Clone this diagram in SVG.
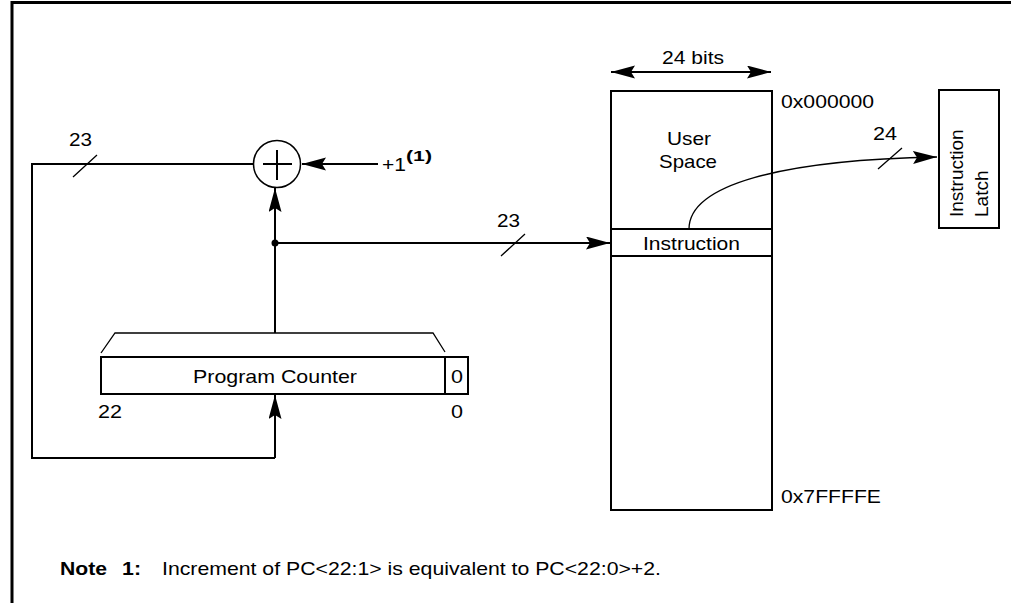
<svg xmlns="http://www.w3.org/2000/svg" width="1011" height="603" viewBox="0 0 1011 603">
<style>
text{font-family:"Liberation Sans",Arial,sans-serif;font-size:19px;fill:#000}
.b{font-weight:bold}
.ln{fill:none;stroke:#000;stroke-width:2}
.th{fill:none;stroke:#000;stroke-width:1.3}
.box{fill:#fff;stroke:#000;stroke-width:2}
</style>
<defs>
<marker id="ah" markerUnits="userSpaceOnUse" markerWidth="24" markerHeight="14" refX="24" refY="6.5" orient="auto-start-reverse">
<path d="M0,0 L24,6.5 L0,13 L4,6.5 z" fill="#000"/>
</marker>
</defs>
<path d="M12,603 V2.5 H1011" fill="none" stroke="#000" stroke-width="3"/>
<g id="program-counter">
<path class="th" d="M101,353 L115,333 H433 L445,352"/>
<rect class="box" x="101" y="357" width="367" height="37"/>
<path class="ln" d="M445,357 V394"/>
<text x="193" y="383" textLength="164" lengthAdjust="spacingAndGlyphs">Program Counter</text>
<text x="451" y="383" textLength="12" lengthAdjust="spacingAndGlyphs">0</text>
<text x="98" y="418" textLength="24" lengthAdjust="spacingAndGlyphs">22</text>
<text x="451" y="418" textLength="12" lengthAdjust="spacingAndGlyphs">0</text>
</g>
<g id="memory">
<path class="ln" d="M611,72 H771" marker-start="url(#ah)" marker-end="url(#ah)"/>
<text x="662" y="64" textLength="62" lengthAdjust="spacingAndGlyphs">24 bits</text>
<rect class="box" x="611" y="91" width="161" height="419"/>
<path class="ln" d="M611,229 H772 M611,256 H772"/>
<text x="667" y="145" textLength="44" lengthAdjust="spacingAndGlyphs">User</text>
<text x="659" y="168" textLength="58" lengthAdjust="spacingAndGlyphs">Space</text>
<text x="643" y="250" textLength="97" lengthAdjust="spacingAndGlyphs">Instruction</text>
<text x="781" y="108" textLength="93" lengthAdjust="spacingAndGlyphs">0x000000</text>
<text x="781" y="503" textLength="100" lengthAdjust="spacingAndGlyphs">0x7FFFFE</text>
</g>
<g id="instruction-latch">
<rect class="box" x="939" y="90" width="60" height="138"/>
<text transform="translate(963,217) rotate(-90)">Instruction</text>
<text transform="translate(988,217) rotate(-90)">Latch</text>
</g>
<g id="connectors">
<path class="ln" d="M275,458 H32 V164 H254"/>
<path class="ln" d="M378,164 H302" marker-end="url(#ah)"/>
<path class="ln" d="M275,333 V188" marker-end="url(#ah)"/>
<path class="ln" d="M275,243 H610" marker-end="url(#ah)"/>
<path class="ln" d="M275,458 V395" marker-end="url(#ah)"/>
<path class="th" d="M689,229 C689,185 780,160 937,157" marker-end="url(#ah)"/>
<circle cx="275" cy="243" r="3.5" fill="#000"/>
<path class="th" d="M73,177 L97,155 M501,256 L525,234 M878,169 L902,148"/>
<text x="69" y="146" textLength="23" lengthAdjust="spacingAndGlyphs">23</text>
<text x="497" y="227" textLength="23" lengthAdjust="spacingAndGlyphs">23</text>
<text x="873" y="140" textLength="24" lengthAdjust="spacingAndGlyphs">24</text>
<text x="382" y="171" textLength="24" lengthAdjust="spacingAndGlyphs">+1</text>
<text x="406" y="161" class="b" style="font-size:14px" textLength="26" lengthAdjust="spacingAndGlyphs">(1)</text>
</g>
<g id="adder">
<circle cx="277" cy="164" r="23.5" fill="#fff" stroke="#000" stroke-width="1.5"/>
<path class="ln" d="M263,164 H292 M277,150 V180"/>
</g>
<g id="note">
<text x="60" y="575" class="b" textLength="47" lengthAdjust="spacingAndGlyphs">Note</text>
<text x="122" y="575" class="b" textLength="19" lengthAdjust="spacingAndGlyphs">1:</text>
<text x="162" y="575" textLength="499" lengthAdjust="spacingAndGlyphs">Increment of PC&lt;22:1&gt; is equivalent to PC&lt;22:0&gt;+2.</text>
</g>
</svg>
